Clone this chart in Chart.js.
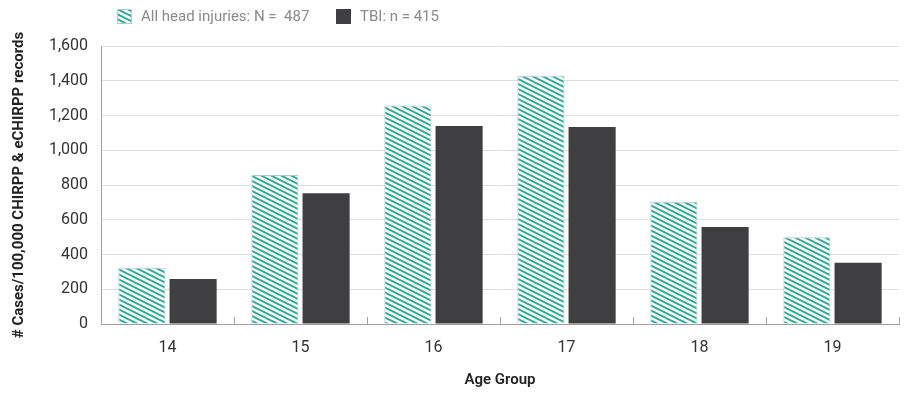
<!DOCTYPE html>
<html>
<head>
<meta charset="utf-8">
<script src="https://cdn.jsdelivr.net/npm/chart.js@4.4.1/dist/chart.umd.min.js"></script>
<style>
  html, body { margin: 0; padding: 0; background: #fff; }
  #wrap { position: relative; width: 912px; height: 393px; }
  #legend { position: absolute; left: 0; top: 0; width: 912px; height: 34px; font-family: Roboto, sans-serif; font-size: 15px; color: #8a8a8a; }
  #legend .item { position: absolute; top: 8px; height: 17px; line-height: 17px; white-space: pre; }
  #legend canvas, #legend .box { position: absolute; top: 9px; width: 15px; height: 15px; }
</style>
</head>
<body>
<div id="wrap">
  <canvas id="chart" width="912" height="393"></canvas>
  <div id="legend">
    <canvas id="sw1" width="15" height="15" style="left:117px"></canvas>
    <span class="item" style="left:141px">All head injuries: N =  487</span>
    <div class="box" style="left:336px;background:#3f3f41"></div>
    <span class="item" style="left:360px">TBI: n = 415</span>
  </div>
</div>
<script>
const ageGroups = ['14', '15', '16', '17', '18', '19'];
const allHeadInjuries = [324, 857, 1257, 1429, 704, 499];
const tbi = [259, 752, 1140, 1134, 558, 353];
const yTicks = [0, 200, 400, 600, 800, 1000, 1200, 1400, 1600];

const teal = '#36a596';
const dark = '#3f3f41';

// diagonal stripes, top-left to bottom-right
function makeHatch() {
    const tile = document.createElement('canvas');
    tile.width = 10;
    tile.height = 5;
    const c = tile.getContext('2d');
    c.fillStyle = '#f2fbfa';
    c.fillRect(0, 0, 10, 5);
    c.strokeStyle = teal;
    c.lineWidth = 2;
    for (let k = -1; k <= 1; k++) {
        c.beginPath();
        c.moveTo(-2, k * 5 - 1);
        c.lineTo(12, k * 5 + 6);
        c.stroke();
    }
    return c.createPattern(tile, 'repeat');
}

const sw = document.getElementById('sw1').getContext('2d');
sw.fillStyle = makeHatch();
sw.fillRect(0, 0, 15, 15);
sw.strokeStyle = '#a9cfc9';
sw.strokeRect(0.5, 0.5, 14, 14);

// little upward marks between categories on the x axis
const catMarks = {
    id: 'catMarks',
    afterDraw(chart) {
        const x = chart.scales.x;
        const ctx = chart.ctx;
        const step = (x.right - x.left) / ageGroups.length;
        ctx.save();
        ctx.strokeStyle = '#a0a0a0';
        ctx.lineWidth = 1;
        for (let i = 1; i <= ageGroups.length; i++) {
            const px = Math.round(x.left + i * step) + 0.5;
            ctx.beginPath();
            ctx.moveTo(px, x.top - 7);
            ctx.lineTo(px, x.top);
            ctx.stroke();
        }
        ctx.restore();
    }
};

const ctx = document.getElementById('chart').getContext('2d');
const hatch = makeHatch();

new Chart(ctx, {
    type: 'bar',
    data: {
        labels: ageGroups,
        datasets: [{
            label: 'All head injuries: N =  487',
            data: allHeadInjuries,
            backgroundColor: hatch,
            borderColor: '#a9cfc9',
            borderWidth: 1,
            categoryPercentage: 0.77,
            barPercentage: 0.92
        },
        {
            label: 'TBI: n = 415',
            data: tbi,
            backgroundColor: dark,
            borderWidth: 0,
            categoryPercentage: 0.77,
            barPercentage: 0.92
        }]
    },
    options: {
        responsive: false,
        animation: false,
        devicePixelRatio: 1,
        layout: { padding: { top: 46, right: 13, left: 0, bottom: 0 } },
        plugins: {
            legend: { display: false },
            tooltip: { enabled: false }
        },
        scales: {
            x: {
                grid: { display: false },
                border: { display: true, color: '#a0a0a0' },
                ticks: {
                    color: '#333',
                    font: { family: 'Roboto', size: 16 },
                    padding: 6
                },
                title: {
                    display: true,
                    text: 'Age Group',
                    color: '#222',
                    font: { family: 'Roboto', size: 15, weight: '600' },
                    padding: { top: 15, bottom: 4 }
                },
                afterFit(scale) { scale.height = 69; }
            },
            y: {
                min: 0,
                max: 1600,
                afterBuildTicks(scale) { scale.ticks = yTicks.map(v => ({ value: v })); },
                grid: { color: '#dedede', drawTicks: false },
                border: { display: true, color: '#a0a0a0' },
                ticks: {
                    color: '#333',
                    font: { family: 'Roboto', size: 16 },
                    padding: 13,
                    callback: v => v.toLocaleString('en-US')
                },
                title: {
                    display: true,
                    text: '# Cases/100,000 CHIRPP & eCHIRPP records',
                    color: '#222',
                    font: { family: 'Roboto', size: 15, weight: 'bold' },
                    padding: { top: 10, bottom: 0 }
                },
                afterFit(scale) { scale.width = 101; }
            }
        }
    },
    plugins: [catMarks]
});
</script>
</body>
</html>
